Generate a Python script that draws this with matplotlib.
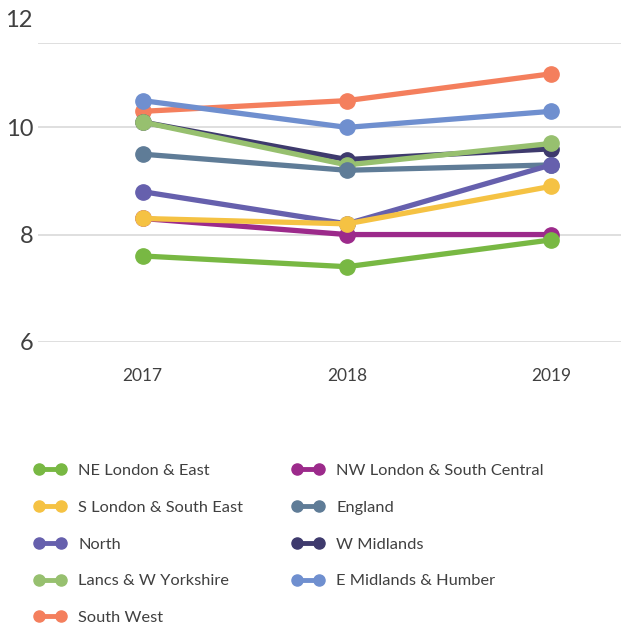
import numpy as np
import matplotlib
matplotlib.use("Agg")
import matplotlib.pyplot as plt

# -------------------- Data --------------------
years = ["2017", "2018", "2019"]

ne_london_east = [7.6, 7.4, 7.9]
nw_london_south_central = [8.3, 8.0, 8.0]
s_london_south_east = [8.3, 8.2, 8.9]
england = [9.5, 9.2, 9.3]
north = [8.8, 8.2, 9.3]
w_midlands = [10.1, 9.4, 9.6]
lancs_w_yorkshire = [10.1, 9.3, 9.7]
e_midlands_humber = [10.5, 10.0, 10.3]
south_west = [10.3, 10.5, 11.0]

series = [
    ("NE London & East", ne_london_east, "#78b843", 9),
    ("NW London & South Central", nw_london_south_central, "#9c2a8b", 7),
    ("S London & South East", s_london_south_east, "#f5c243", 8),
    ("England", england, "#5f7c97", 5),
    ("North", north, "#6660ad", 6),
    ("W Midlands", w_midlands, "#3e3a6d", 3),
    ("Lancs & W Yorkshire", lancs_w_yorkshire, "#97c06f", 4),
    ("E Midlands & Humber", e_midlands_humber, "#6f8fcf", 2),
    ("South West", south_west, "#f47f5d", 1),
]

# -------------------- Style --------------------
plt.rcParams["font.family"] = ["Lato", "DejaVu Sans"]
text_color = "#404040"
grid_color = "#d9d9d9"

fig = plt.figure(figsize=(6.21, 6.30), dpi=100)
ax = fig.add_axes([0.0612, 0.4576, 0.9388, 0.4737])

x = np.arange(len(years))
handles = {}
for name, values, color, z in series:
    (h,) = ax.plot(
        x,
        values,
        color=color,
        linewidth=3.8,
        marker="o",
        markersize=11,
        zorder=z + 2,
        label=name,
        solid_capstyle="round",
    )
    handles[name] = h

y_top = 11.57
ax.set_ylim(6, y_top)
ax.set_xlim(-0.513, 2.342)
ax.set_yticks([6, 8, 10])
ax.set_xticks(x)
ax.set_xticklabels(years)

for yv in [6, 8, 10, y_top]:
    ax.axhline(yv, color=grid_color, linewidth=1.2, zorder=0)

# the top label sits above the plotted range
ax.text(
    -0.01, 12, "12", transform=ax.get_yaxis_transform(), ha="right", va="center",
    fontsize=17, color=text_color, clip_on=False,
)

for s in ax.spines.values():
    s.set_visible(False)
ax.tick_params(axis="y", length=0, pad=3, labelsize=17, labelcolor=text_color)
ax.tick_params(axis="x", length=0, pad=19, labelsize=12.5, labelcolor=text_color)

# -------------------- Legend --------------------
order = [
    "NE London & East",
    "S London & South East",
    "North",
    "Lancs & W Yorkshire",
    "South West",
    "NW London & South Central",
    "England",
    "W Midlands",
    "E Midlands & Humber",
]
leg_handles = []
for name in order:
    h = handles[name]
    (lh,) = plt.plot([], [], color=h.get_color(), linewidth=3.5, marker="o", markersize=8)
    leg_handles.append(lh)

leg = fig.legend(
    leg_handles,
    order,
    loc="upper left",
    bbox_to_anchor=(0.055, 0.264),
    ncol=2,
    frameon=False,
    fontsize=11.8,
    numpoints=2,
    handlelength=1.95,
    handletextpad=0.75,
    labelspacing=1.36,
    columnspacing=2.95,
    borderpad=0,
    borderaxespad=0,
)
for t in leg.get_texts():
    t.set_color(text_color)

fig.savefig("out.png", dpi=100)
